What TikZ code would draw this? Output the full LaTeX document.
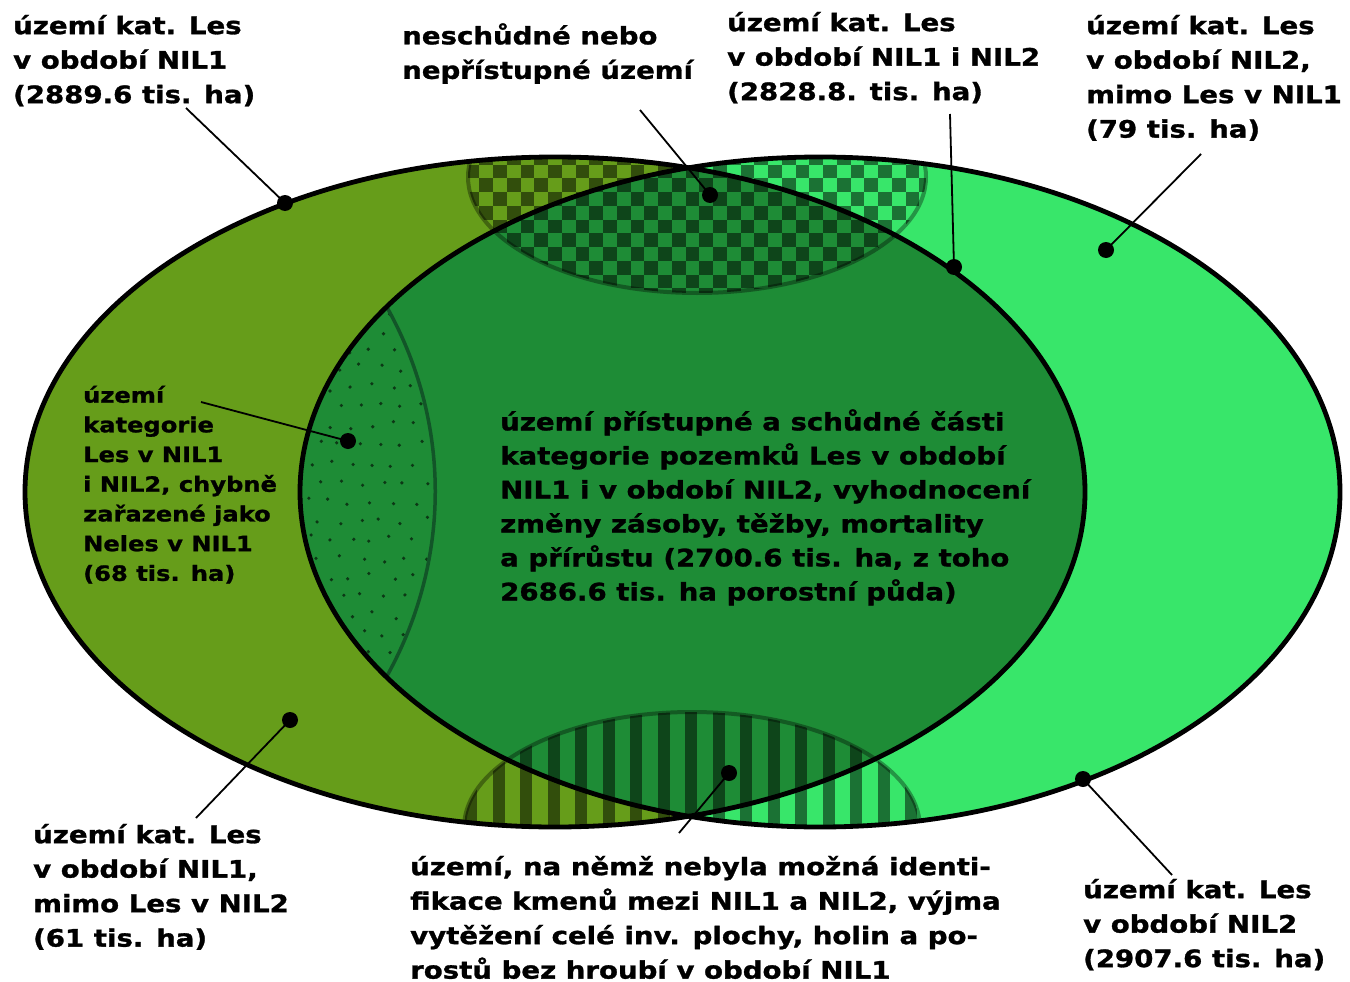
\documentclass[tikz,border=0pt]{standalone}
\usepackage{fontspec}
\newfontfamily\lblfont[FakeStretch=1.15,FakeBold=1.2]{DejaVu Sans}
\definecolor{cOlive}{RGB}{102,157,26}
\definecolor{cBright}{RGB}{56,230,106}
\definecolor{cDark}{RGB}{30,140,54}
\definecolor{cLine}{RGB}{18,85,40}
\newcommand\tp{\rule{0pt}{.83em}}
\def\ellL{(555,492) ellipse [x radius=530, y radius=335]}
\def\ellR{(820,492) ellipse [x radius=520, y radius=335]}
\def\chk{(697,177) ellipse [x radius=229, y radius=116]}
\def\stp{(692,828) ellipse [x radius=228, y radius=116]}
\def\arcpath{(378,292) .. controls (454,415) and (454,565) .. (380,688)}
\begin{document}
\begin{tikzpicture}[x=1pt,y=-1pt,
  lbl/.style={anchor=north west, inner sep=0pt, align=left,
    font=\lblfont\bfseries\fontsize{24}{34.5}\selectfont},
  lblsmall/.style={lbl, font=\lblfont\bfseries\fontsize{21}{29.7}\selectfont},
  dot/.style={circle, fill=black, inner sep=0pt, minimum size=16pt},
  conn/.style={line width=1.8pt},
  outline/.style={line width=4.8pt, draw=black}]
\useasboundingbox (0,0) rectangle (1350,982);
% base fills
\fill[cOlive] \ellL;
\fill[cBright] \ellR;
\begin{scope}
  \clip \ellL;
  \fill[cDark] \ellR;
\end{scope}
% dotted region
\begin{scope}
  \clip \ellL;
  \clip \ellR;
  \clip \arcpath -- (250,700) -- (250,280) -- cycle;
  \pgfmathsetseed{7}
  \foreach \r in {0,...,21} {
    \foreach \c in {0,...,7} {
      \pgfmathsetmacro\px{298+\c*21+mod(\r,2)*10.5+rand*4}
      \pgfmathsetmacro\py{292+\r*19+rand*4}
      \fill[black,opacity=.6] (\px,\py) circle[radius=1.8];
    }
  }
\end{scope}
\begin{scope}
  \clip \ellR;
  \draw[cLine, line width=3.5pt] \arcpath;
\end{scope}
% checkered region
\begin{scope}
  \clip \ellL \ellR;
  \clip \chk;
  \foreach \i in {0,...,34} {
    \foreach \j in {0,...,12} {
      \pgfmathparse{int(mod(\i+\j,2))}
      \ifnum\pgfmathresult=0
        \fill[black,opacity=.5] (465.5+\i*13.75,137+\j*13.75) rectangle ++(13.75,13.75);
      \fi
    }
  }
\end{scope}
\begin{scope}
  \clip \ellL \ellR;
  \draw[black,opacity=.35,line width=4pt] \chk;
\end{scope}
% striped region
\begin{scope}
  \clip \ellL \ellR;
  \clip \stp;
  \foreach \k in {-9,...,9} {
    \fill[black,opacity=.5] (691+\k*27.5-6,700) rectangle ++(12,140);
  }
\end{scope}
\begin{scope}
  \clip \ellL \ellR;
  \draw[black,opacity=.35,line width=4pt] \stp;
\end{scope}
% outlines
\draw[outline] \ellL;
\draw[outline] \ellR;
% dots
\node[dot] (d1) at (285,203) {};
\node[dot] (d2) at (710,195) {};
\node[dot] (d3) at (954,267) {};
\node[dot] (d4) at (1106,250) {};
\node[dot] (d5) at (348,441) {};
\node[dot] (d6) at (290,720) {};
\node[dot] (d7) at (729,773) {};
\node[dot] (d8) at (1083,779) {};
% connector free ends
\coordinate (c1) at (186,108);
\coordinate (c2) at (640,110);
\coordinate (c3) at (950,114);
\coordinate (c4) at (1201,154);
\coordinate (c5) at (201,402);
\coordinate (c6) at (196,818);
\coordinate (c7) at (679,833);
\coordinate (c8) at (1172,875);
\foreach \n in {1,...,8} { \draw[conn] (c\n) -- (d\n.center); }
% labels
\node[lbl] (t1) at (13,14) {\tp území kat. Les\\v období NIL1\\(2889.6 tis. ha)};
\node[lbl] (t2) at (402,23) {\tp neschůdné nebo\\nepřístupné území};
\node[lbl] (t3) at (727,11) {\tp území kat. Les\\v období NIL1 i NIL2\\(2828.8. tis. ha)};
\node[lbl] (t4) at (1086,14) {\tp území kat. Les\\v období NIL2,\\mimo Les v NIL1\\(79 tis. ha)};
\node[lblsmall] (t5) at (83,385) {\tp území\\kategorie\\Les v NIL1\\i NIL2, chybně\\zařazené jako\\Neles v NIL1\\(68 tis. ha)};
\node[lbl, font=\lblfont\bfseries\fontsize{24}{34}\selectfont] (t6) at (500,409) {\tp území přístupné a schůdné části\\kategorie pozemků Les v období\\NIL1 i v období NIL2, vyhodnocení\\změny zásoby, těžby, mortality\\a přírůstu (2700.6 tis. ha, z toho\\2686.6 tis. ha porostní půda)};
\node[lbl] (t7) at (33,823) {\tp území kat. Les\\v období NIL1,\\mimo Les v NIL2\\(61 tis. ha)};
\node[lbl] (t8) at (410,855) {\tp území, na němž nebyla možná identi-\\fikace kmenů mezi NIL1 a NIL2, výjma\\vytěžení celé inv. plochy, holin a po-\\rostů bez hroubí v období NIL1};
\node[lbl] (t9) at (1083,878) {\tp území kat. Les\\v období NIL2\\(2907.6 tis. ha)};
\end{tikzpicture}
\end{document}
